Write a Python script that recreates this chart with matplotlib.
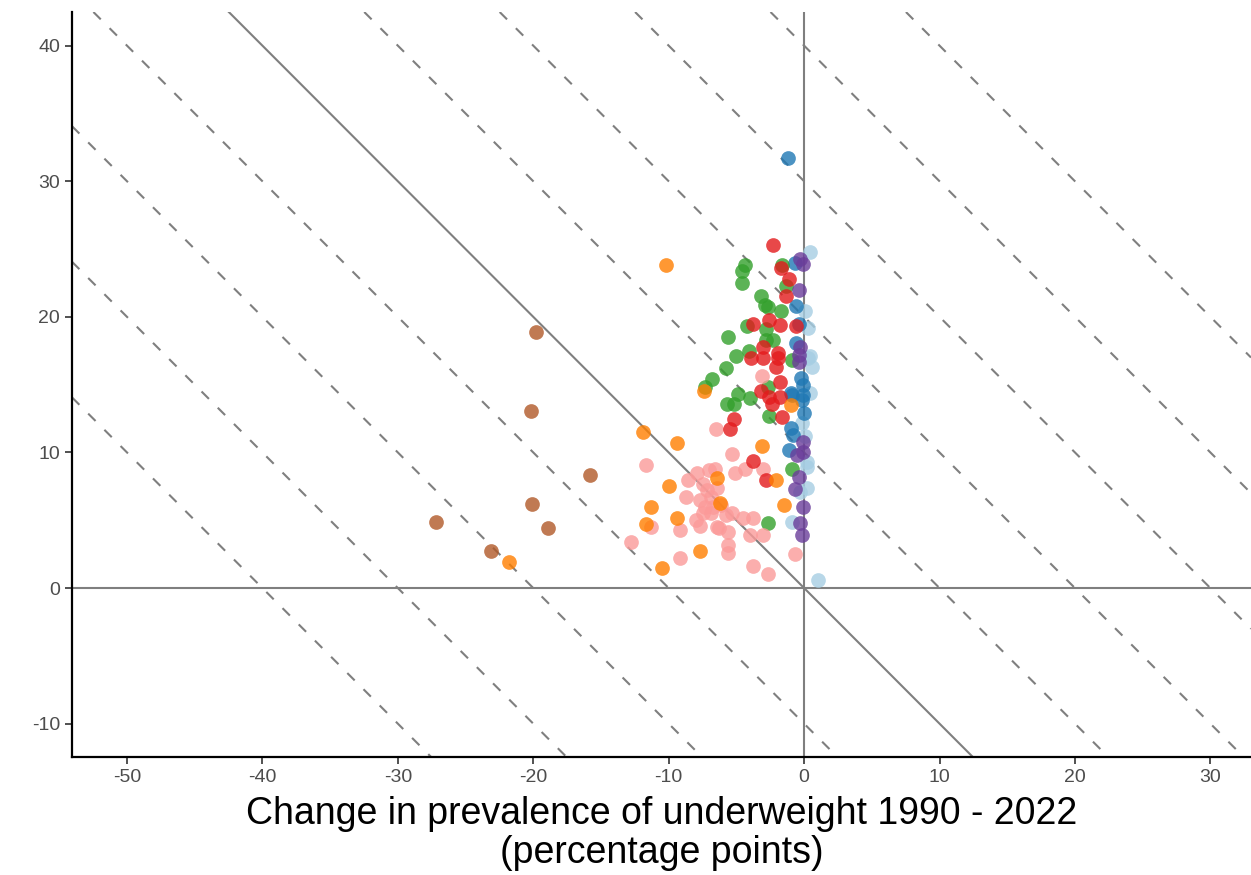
import matplotlib
matplotlib.use("Agg")
import matplotlib.pyplot as plt

# change in underweight (x) and the other measure (y), percentage points, per group
light_blue_x = [0.4, 0.1, 0.3, 0.3, 0.4, 0.6, 0.4, -0.15, 0.1, 0.2, 0.2, 0.2, -0.3, -0.9, 1.0]
light_blue_y = [24.8, 20.4, 19.2, 17.0, 17.1, 16.3, 14.4, 12.2, 11.2, 9.3, 8.9, 7.4, 7.1, 4.9, 0.6]

blue_x = [-1.2, -0.7, -0.6, -0.4, -0.6, -0.2, -0.1, -0.1, -0.9, -1.0, 0.0, -0.15, -1.0, -0.8, -1.1]
blue_y = [31.7, 24.0, 20.8, 19.5, 18.1, 15.5, 15.0, 14.2, 14.2, 14.4, 12.9, 13.9, 11.8, 11.3, 10.2]

green_x = [-4.4, -4.6, -4.6, -1.6, -1.3, -3.2, -2.9, -2.7, -1.7, -4.2, -5.6, -2.8, -2.8, -2.3,
           -5.0, -4.1, -0.9, -5.8, -6.8, -7.3, -2.7, -4.9, -5.2, -4.0, -2.6, -5.7, -0.9, -2.7]
green_y = [23.8, 23.4, 22.5, 23.8, 22.3, 21.5, 20.9, 20.7, 20.4, 19.3, 18.5, 19.1, 18.3, 18.3,
           17.1, 17.5, 16.8, 16.2, 15.4, 14.8, 14.8, 14.3, 13.6, 14.0, 12.7, 13.6, 8.8, 4.8]

pink_x = [-11.7, -6.5, -8.6, -8.7, -11.3, -9.2, -12.8, -9.2, -7.7, -8.0, -7.9, -7.5, -7.2, -7.7,
          -6.9, -6.7, -7.5, -6.9, -6.6, -6.4, -6.4, -5.3, -4.4, -5.1, -3.0, -3.8, -4.5, -4.0,
          -3.0, -5.6, -5.6, -5.6, -6.3, -3.8, -2.7, -0.7, -5.3, -3.1, -7.3, -6.1, -5.8, -7.0]
pink_y = [9.1, 11.7, 8.0, 6.7, 4.5, 4.3, 3.4, 2.2, 4.6, 5.0, 8.5, 7.7, 7.2, 6.5,
          6.7, 6.0, 5.5, 5.5, 8.8, 7.4, 4.5, 9.9, 8.8, 8.5, 8.8, 5.2, 5.2, 3.9,
          3.9, 4.1, 3.2, 2.6, 4.4, 1.6, 1.0, 2.5, 5.5, 15.6, 6.0, 6.1, 5.4, 8.7]

red_x = [-2.3, -1.7, -1.1, -1.3, -2.6, -3.8, -1.8, -0.6, -3.0, -3.9, -3.0, -1.9, -1.9, -2.1,
         -1.8, -3.2, -2.6, -1.8, -2.4, -1.6, -5.2, -5.5, -3.8, -2.8]
red_y = [25.3, 23.6, 22.8, 21.5, 19.8, 19.5, 19.4, 19.3, 17.8, 17.0, 17.0, 17.3, 17.0, 16.3,
         15.2, 14.5, 14.1, 14.1, 13.6, 12.6, 12.5, 11.7, 9.4, 8.0]

orange_x = [-10.2, -7.4, -11.9, -9.4, -10.0, -11.3, -9.4, -11.7, -7.7, -10.5, -21.8, -6.4,
            -6.2, -3.1, -2.1, -1.5, -1.0]
orange_y = [23.8, 14.5, 11.5, 10.7, 7.5, 6.0, 5.2, 4.7, 2.7, 1.5, 1.9, 8.1,
            6.3, 10.5, 8.0, 6.1, 13.5]

purple_x = [-0.3, -0.1, -0.4, -0.3, -0.4, -0.4, -0.1, -0.5, -0.1, -0.4, -0.7, -0.1, -0.3, -0.15]
purple_y = [24.3, 23.9, 22.0, 17.8, 17.2, 16.7, 10.8, 9.8, 10.0, 8.2, 7.3, 6.0, 4.8, 3.9]

brown_x = [-19.8, -20.2, -15.8, -20.1, -18.9, -27.2, -23.1]
brown_y = [18.9, 13.05, 8.3, 6.2, 4.4, 4.9, 2.7]

groups = [
    (light_blue_x, light_blue_y, "#a6cee3"),
    (blue_x, blue_y, "#1f78b4"),
    (green_x, green_y, "#33a02c"),
    (pink_x, pink_y, "#fb9a99"),
    (red_x, red_y, "#e31a1c"),
    (orange_x, orange_y, "#ff7f00"),
    (purple_x, purple_y, "#6a3d9a"),
    (brown_x, brown_y, "#b15928"),
]

diagonal_levels = [-40, -30, -20, -10, 10, 20, 30, 40, 50]
x_ticks = [-50, -40, -30, -20, -10, 0, 10, 20, 30]
y_ticks = [-10, 0, 10, 20, 30, 40]

plt.rcParams['font.family'] = ['Liberation Sans', 'DejaVu Sans']
plt.rcParams['axes.unicode_minus'] = False

fig = plt.figure(figsize=(12.51, 8.75), dpi=100)
ax = fig.add_axes([72 / 1251, 118 / 875, 1 - 72 / 1251, (757 - 12) / 875])

# reference lines
for c in diagonal_levels:
    ax.axline((0, c), slope=-1, color="#7f7f7f", lw=1.5, ls=(0, (5, 6)), zorder=1)
ax.axline((0, 0), slope=-1, color="#7f7f7f", lw=1.5, zorder=1)
ax.axhline(0, color="#7f7f7f", lw=1.5, zorder=1)
ax.axvline(0, color="#7f7f7f", lw=1.5, zorder=1)

for xs, ys, col in groups:
    ax.scatter(xs, ys, s=112, color=col, alpha=0.8, linewidths=0, zorder=3)

ax.set_xlim(-54.06, 33.0)
ax.set_ylim(-12.46, 42.48)
ax.set_xticks(x_ticks)
ax.set_yticks(y_ticks)
ax.tick_params(labelsize=14, labelcolor="#4d4d4d", color="#333333", length=5, width=1.2)

for side in ["top", "right"]:
    ax.spines[side].set_visible(False)
for side in ["left", "bottom"]:
    ax.spines[side].set_linewidth(1.6)
    ax.spines[side].set_color("black")

ax.set_xlabel("Change in prevalence of underweight 1990 - 2022\n(percentage points)",
              fontsize=27, color="black", labelpad=7, linespacing=1.12)

fig.savefig("out.png", dpi=100)
